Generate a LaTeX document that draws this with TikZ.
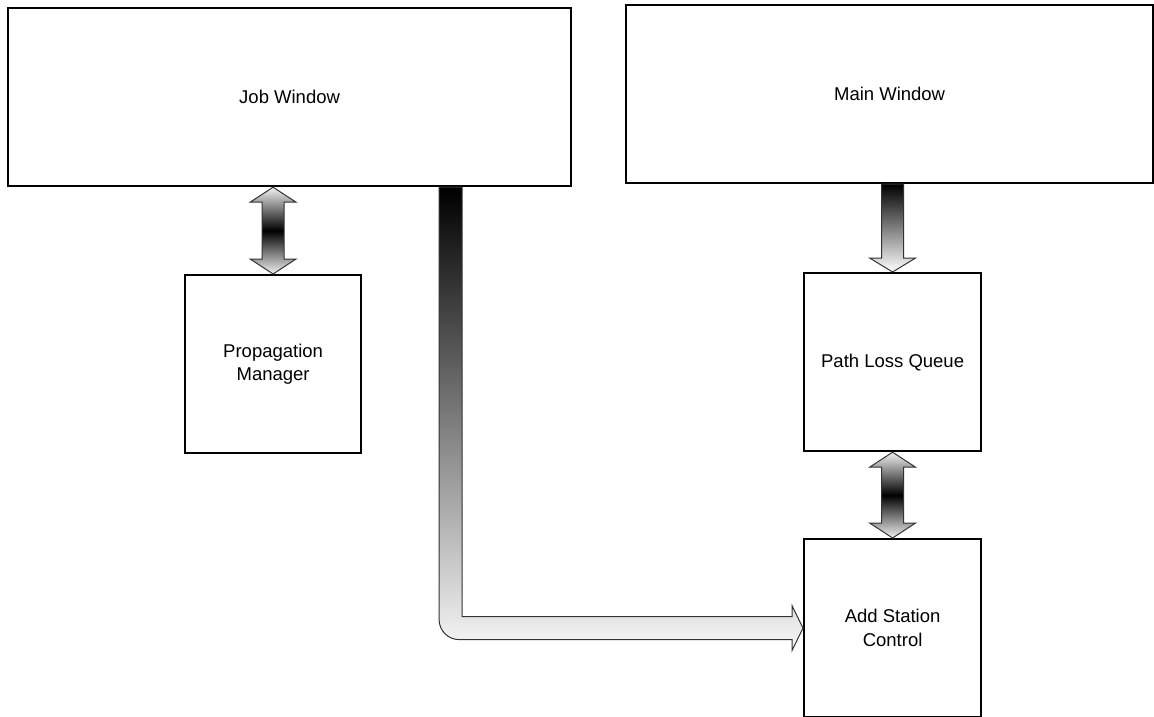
\documentclass[tikz,border=0pt]{standalone}
\usepackage{fontspec}
\setmainfont{Liberation Sans}
\usetikzlibrary{calc}
\newcommand{\fatdbl}[2]{%
\shadedraw[fatarrow,top color=gray!10,bottom color=gray!10,middle color=black]
 let \p1=(#1),\p2=(#2) in
 (\x1,\y1) -- (\x1+23pt,\y1-15pt) -- (\x1+11pt,\y1-15pt) -- (\x1+11pt,\y2+15pt)
 -- (\x1+23pt,\y2+15pt) -- (\x1,\y2) -- (\x1-23pt,\y2+15pt) -- (\x1-11pt,\y2+15pt)
 -- (\x1-11pt,\y1-15pt) -- (\x1-23pt,\y1-15pt) -- cycle;}
\begin{document}
\begin{tikzpicture}[x=1pt,y=-1pt]
\tikzstyle{box}=[draw,line width=2.2pt,anchor=north west,align=center,inner sep=0pt,
  font=\fontsize{18.5}{23.5}\selectfont]
\tikzstyle{fatarrow}=[draw=black!80,line width=1pt]
\useasboundingbox (0,0) rectangle (1154,717);
\node[box,minimum width=563,minimum height=178] (jobw) at (7,7) {Job Window};
\node[box,minimum width=527,minimum height=178] (mainw) at (625,4) {Main Window};
\node[box,minimum width=176,minimum height=178] (pm) at (184,274) {Propagation\\Manager};
\node[box,minimum width=177,minimum height=178] (plq) at (803,272) {Path Loss Queue};
\node[box,minimum width=177,minimum height=178] (asc) at (803,538) {Add Station\\Control};
% arrows
\fatdbl{pm.north |- jobw.south}{pm.north}
\fatdbl{plq.south}{asc.north}
\shadedraw[fatarrow,top color=black,bottom color=white]
 let \p1=(plq.north),\p2=(plq.north |- mainw.south) in
 (\x1-11pt,\y2) -- (\x1-11pt,\y1+14pt) -- (\x1-23pt,\y1+14pt) -- (\x1,\y1)
 -- (\x1+23pt,\y1+14pt) -- (\x1+11pt,\y1+14pt) -- (\x1+11pt,\y2) -- cycle;
\coordinate (jt) at ($(jobw.south)+(161,0)$);
\shadedraw[fatarrow,top color=black,bottom color=gray!6]
 let \p1=(jt),\p2=(asc.west) in
 (\x1-11.5pt,\y1) -- (\x1-11.5pt,\y2+8.5pt) arc[start angle=180,end angle=270,radius=20pt]
 -- (\x2-11pt,\y2-11.5pt) -- (\x2-11pt,\y2-22.5pt) -- (\x2,\y2) -- (\x2-11pt,\y2+22.5pt)
 -- (\x2-11pt,\y2+11.5pt) -- (\x1+11.5pt,\y2+11.5pt) -- (\x1+11.5pt,\y1) -- cycle;
\end{tikzpicture}
\end{document}
